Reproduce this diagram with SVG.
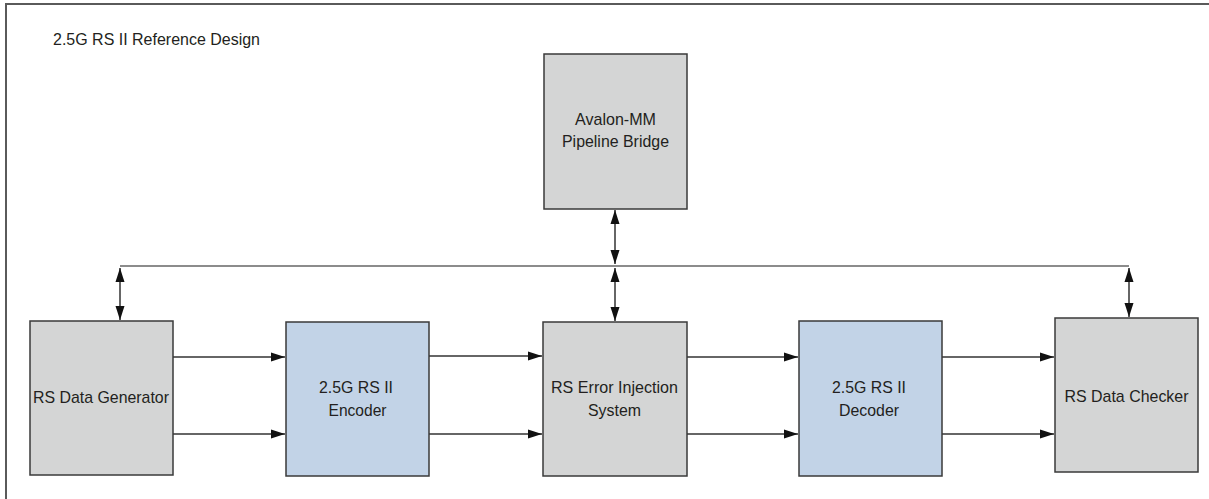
<svg xmlns="http://www.w3.org/2000/svg" width="1209" height="499" viewBox="0 0 1209 499">
<defs>
<style>
.box{stroke:#3a3a3a;stroke-width:1.5}
.gray{fill:#d4d5d5}
.blue{fill:#c2d3e7}
.t{font-family:"Liberation Sans",Arial,sans-serif;font-size:17px;fill:#231f20;text-anchor:middle}
.c{stroke:#333;stroke-width:1.5;fill:none}
.bus{stroke:#666;stroke-width:1.5;fill:none}
</style>
<marker id="ah" markerUnits="userSpaceOnUse" markerWidth="15" markerHeight="10" refX="14" refY="5" orient="auto-start-reverse" viewBox="0 0 15 10">
<path d="M0,0.5 L14,5 L0,9.5 z" fill="#111"/>
</marker>
</defs>
<rect width="1209" height="499" fill="#fff"/>
<path d="M6,499 V4 H1209" fill="none" stroke="#5a5a5a" stroke-width="2"/>
<text x="53" y="45" font-family="Liberation Sans, Arial, sans-serif" font-size="17" fill="#231f20" textLength="207" lengthAdjust="spacingAndGlyphs">2.5G RS II Reference Design</text>

<g id="connectors">
<path class="bus" d="M120,266 H1129"/>
<path class="c" d="M120,268 V320" marker-start="url(#ah)" marker-end="url(#ah)"/>
<path class="c" d="M615,210 V264" marker-start="url(#ah)" marker-end="url(#ah)"/>
<path class="c" d="M615,268 V321" marker-start="url(#ah)" marker-end="url(#ah)"/>
<path class="c" d="M1129,268 V317" marker-start="url(#ah)" marker-end="url(#ah)"/>
<path class="c" d="M173,357 H285" marker-end="url(#ah)"/>
<path class="c" d="M173,434 H285" marker-end="url(#ah)"/>
<path class="c" d="M429,356 H542" marker-end="url(#ah)"/>
<path class="c" d="M429,434 H542" marker-end="url(#ah)"/>
<path class="c" d="M687,357 H798" marker-end="url(#ah)"/>
<path class="c" d="M687,434 H798" marker-end="url(#ah)"/>
<path class="c" d="M942,357 H1054" marker-end="url(#ah)"/>
<path class="c" d="M942,434 H1054" marker-end="url(#ah)"/>
</g>

<g id="avalon">
<rect class="box gray" x="544" y="54" width="143" height="155"/>
<text class="t" x="615.5" y="125" textLength="81" lengthAdjust="spacingAndGlyphs">Avalon-MM</text>
<text class="t" x="615.5" y="147" textLength="107" lengthAdjust="spacingAndGlyphs">Pipeline Bridge</text>
</g>
<g id="generator">
<rect class="box gray" x="30" y="321" width="143" height="154"/>
<text class="t" x="101" y="403" textLength="136" lengthAdjust="spacingAndGlyphs">RS Data Generator</text>
</g>
<g id="encoder">
<rect class="box blue" x="286" y="322" width="143" height="154"/>
<text class="t" x="356" y="393" textLength="74" lengthAdjust="spacingAndGlyphs">2.5G RS II</text>
<text class="t" x="357.5" y="416" textLength="58" lengthAdjust="spacingAndGlyphs">Encoder</text>
</g>
<g id="error">
<rect class="box gray" x="543" y="322" width="144" height="154"/>
<text class="t" x="614.5" y="393" textLength="127" lengthAdjust="spacingAndGlyphs">RS Error Injection</text>
<text class="t" x="614.5" y="416" textLength="53" lengthAdjust="spacingAndGlyphs">System</text>
</g>
<g id="decoder">
<rect class="box blue" x="799" y="321" width="143" height="155"/>
<text class="t" x="869" y="393" textLength="74" lengthAdjust="spacingAndGlyphs">2.5G RS II</text>
<text class="t" x="869" y="416" textLength="60" lengthAdjust="spacingAndGlyphs">Decoder</text>
</g>
<g id="checker">
<rect class="box gray" x="1055" y="318" width="143" height="154"/>
<text class="t" x="1126.5" y="402" textLength="124" lengthAdjust="spacingAndGlyphs">RS Data Checker</text>
</g>
</svg>
